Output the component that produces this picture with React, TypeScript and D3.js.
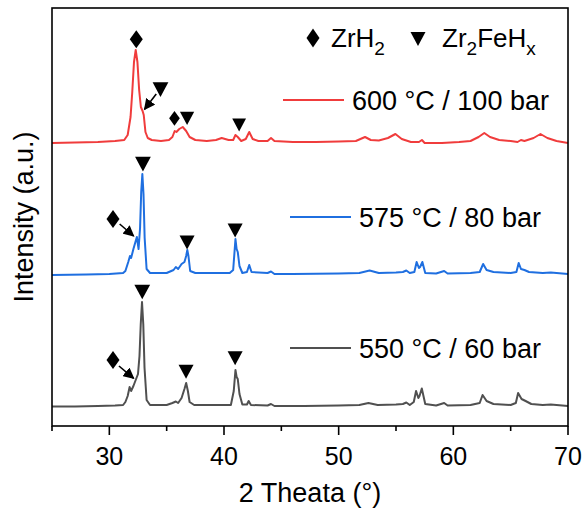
import React from 'react';
import * as d3 from 'd3';

const W = 584;
const H = 512;
const M = { left: 52, right: 16, top: 8, bottom: 86 };

const xTicks = [30, 40, 50, 60, 70];
const xMinorTicks = [25, 35, 45, 55, 65];
const seriesNames = ['550 °C / 60 bar', '575 °C / 80 bar', '600 °C / 100 bar'];
const seriesColors = ['#505050', '#1f6fe0', '#f03c3c'];
const seriesOffsets = [0, 132, 264];

// [2θ, intensity (a.u.)]
const pattern550: [number, number][] = [
  [25, 19.5], [27, 19.5], [29, 20], [30.5, 20.5], [31.2, 21], [31.4, 24], [31.6, 30], [31.77, 39],
  [31.9, 35], [32.1, 40], [32.3, 46], [32.5, 52], [32.63, 70], [32.74, 102], [32.85, 124],
  [32.96, 102], [33.07, 58], [33.25, 26], [33.55, 21], [35.0, 21], [35.5, 23], [35.8, 24.5],
  [36.0, 23], [36.3, 28], [36.55, 37], [36.7, 43], [36.85, 35], [37.0, 24], [37.4, 21],
  [40.6, 21], [40.85, 35], [41.0, 56], [41.1, 49], [41.2, 47], [41.35, 32], [41.6, 21.5],
  [42.0, 21.5], [42.15, 25], [42.35, 21], [43.8, 20.5], [44.1, 22], [44.4, 20], [47, 20],
  [50, 20.5], [51.8, 21], [52.6, 23], [53.4, 21], [55.0, 21.5], [55.6, 22], [55.9, 23.5],
  [56.2, 21], [56.55, 24], [56.75, 35], [56.95, 28], [57.05, 30], [57.25, 37.5], [57.55, 22],
  [58.5, 20.5], [59.2, 23], [59.5, 20.5], [61.5, 21], [62.3, 23], [62.55, 31], [62.9, 25],
  [63.5, 22], [65.0, 21], [65.45, 23], [65.65, 33], [65.95, 27], [66.3, 25], [66.8, 22],
  [67.8, 21], [68.5, 21.5], [70, 20],
];

const pattern575: [number, number][] = [
  [25, 19], [28, 19.5], [30, 20], [31.2, 21], [31.4, 23], [31.65, 32], [31.8, 38], [31.9, 36],
  [32.1, 45], [32.4, 57], [32.55, 45], [32.68, 66], [32.78, 102], [32.88, 120], [32.98, 100],
  [33.08, 56], [33.25, 25], [33.55, 21], [35.0, 21], [35.6, 24], [35.8, 27], [36.0, 25],
  [36.3, 30], [36.55, 32], [36.7, 38], [36.8, 44], [36.9, 38], [37.05, 23], [37.5, 21],
  [40.5, 21], [40.8, 24], [41.0, 55], [41.1, 45], [41.2, 42], [41.35, 28], [41.6, 21],
  [42.0, 22], [42.2, 29], [42.4, 22], [43.8, 21], [44.1, 22.5], [44.4, 20], [46, 20],
  [50, 20.5], [51.8, 21], [52.7, 23.5], [53.5, 21], [55.0, 21.5], [55.6, 22], [55.9, 23.5],
  [56.2, 21], [56.6, 22], [56.8, 32], [57.0, 26], [57.1, 27], [57.3, 32], [57.55, 21],
  [58.5, 20.5], [59.2, 23], [59.5, 20.5], [61.5, 21], [62.3, 22], [62.6, 30], [62.9, 24],
  [63.5, 22], [65.0, 21], [65.5, 22], [65.7, 31], [65.9, 25], [66.2, 24], [66.6, 22],
  [67.8, 21], [68.5, 21.5], [70, 20],
];

const pattern600: [number, number][] = [
  [25, 19], [27, 19.5], [29, 20], [30.5, 21], [31.3, 22], [31.6, 27], [31.85, 45], [32.0, 70],
  [32.15, 100], [32.3, 112], [32.45, 100], [32.6, 72], [32.75, 55], [32.9, 51], [33.0, 47],
  [33.15, 30], [33.35, 24], [33.7, 22], [34.5, 21], [35.2, 22], [35.5, 25], [35.7, 31],
  [35.85, 30], [36.1, 33], [36.4, 35], [36.7, 31], [37.0, 25], [37.5, 22], [38.5, 21],
  [39.3, 22], [39.8, 24], [40.4, 22], [40.8, 22], [41.0, 27], [41.2, 25], [41.5, 21],
  [41.9, 23], [42.2, 30], [42.5, 23], [43.0, 21], [43.8, 21], [44.1, 24], [44.4, 21], [46, 20],
  [48, 20], [50, 20.5], [51.5, 21], [52.3, 25], [52.8, 22], [53.5, 21.5], [54.3, 24],
  [54.95, 28], [55.5, 23], [56.3, 20], [57.0, 20], [57.26, 22], [57.5, 19], [59, 19],
  [60.5, 20], [61.5, 21], [62.2, 25], [62.7, 29], [63.2, 25], [64, 22], [65, 21], [65.6, 20],
  [65.9, 22], [66.2, 21], [67, 24], [67.6, 28], [68.2, 24], [69, 21], [70, 19],
];

const patterns = [pattern550, pattern575, pattern600];

// annotation symbols: [2θ, stacked intensity, relative size]
const diamondMarks: [number, number, number][] = [
  [32.35, 386.7, 1], [35.68, 307.7, 0.82], [30.32, 207, 1], [30.32, 66, 1],
];
const triangleMarks: [number, number, number][] = [
  [34.46, 336.3, 1.05], [36.78, 307.7, 0.95], [41.32, 301, 0.92],
  [32.93, 261.8, 1.05], [36.78, 183.5, 1], [40.97, 195.5, 1],
  [32.87, 134, 1.05], [36.69, 54.3, 1], [40.97, 67.7, 1],
];
const arrows: [number, number, number, number][] = [
  [34.09, 332, 33.07, 316.7],
  [30.9, 202, 32.12, 190],
  [30.84, 60, 32.12, 47.7],
];

const FONT = '"Liberation Sans", Arial, Helvetica, sans-serif';

function diamondPath(w: number, h: number) {
  return `M0,${-h / 2}L${w / 2},0L0,${h / 2}L${-w / 2},0Z`;
}
function trianglePath(w: number, h: number) {
  return `M${-w / 2},${-h / 2}L${w / 2},${-h / 2}L0,${h / 2}Z`;
}

export default function App() {
  const x0 = M.left;
  const x1 = W - M.right;
  const y0 = H - M.bottom;
  const y1 = M.top;
  const x = d3.scaleLinear().domain([25, 70]).range([x0, x1]);
  const y = d3.scaleLinear().domain([0, 418]).range([y0, y1]);

  const lines = patterns.map((p, i) =>
    d3
      .line<[number, number]>()
      .x((d) => x(d[0]))
      .y((d) => y(d[1] + seriesOffsets[i]))
      .curve(d3.curveLinear)(p) as string
  );

  const legendRows = [
    { i: 2, lx: 283, ty: 100 },
    { i: 1, lx: 290, ty: 217 },
    { i: 0, lx: 290, ty: 348 },
  ];

  return (
    <svg
      width={W}
      height={H}
      style={{ position: 'absolute', left: 0, top: 0, background: '#fff' }}
      fontFamily={FONT}
    >
      <defs>
        <marker id="ah" viewBox="0 0 10 10" refX="9" refY="5" markerWidth="7" markerHeight="7" orient="auto">
          <path d="M0,0L10,5L0,10Z" fill="#000" />
        </marker>
        <clipPath id="clip">
          <rect x={x0} y={y1} width={x1 - x0} height={y0 - y1} />
        </clipPath>
      </defs>
      <rect x={0} y={0} width={W} height={H} fill="#fff" />

      <g clipPath="url(#clip)">
        {lines.map((d, i) => (
          <path key={i} d={d} fill="none" stroke={seriesColors[i]} strokeWidth={2} strokeLinejoin="round" />
        ))}
      </g>

      {diamondMarks.map(([t, v, s], k) => (
        <path key={'d' + k} d={diamondPath(13 * s, 18 * s)} transform={`translate(${x(t)},${y(v)})`} fill="#000" />
      ))}
      {triangleMarks.map(([t, v, s], k) => (
        <path key={'t' + k} d={trianglePath(15 * s, 14 * s)} transform={`translate(${x(t)},${y(v)})`} fill="#000" />
      ))}
      {arrows.map(([a, b, c, d], k) => (
        <line key={'a' + k} x1={x(a)} y1={y(b)} x2={x(c)} y2={y(d)} stroke="#000" strokeWidth={1.6} markerEnd="url(#ah)" />
      ))}

      {/* frame */}
      <rect x={x0} y={y1} width={x1 - x0} height={y0 - y1} fill="none" stroke="#000" strokeWidth={1.6} />

      {/* x axis ticks */}
      {xTicks.map((t) => (
        <g key={'xt' + t}>
          <line x1={x(t)} x2={x(t)} y1={y0} y2={y0 + 9} stroke="#000" strokeWidth={1.6} />
          <text x={x(t)} y={y0 + 39} textAnchor="middle" fontSize={25} fill="#000">
            {t}
          </text>
        </g>
      ))}
      {xMinorTicks.map((t) => (
        <line key={'xm' + t} x1={x(t)} x2={x(t)} y1={y0} y2={y0 + 5} stroke="#000" strokeWidth={1.6} />
      ))}

      <text x={(x0 + x1) / 2} y={H - 10} textAnchor="middle" fontSize={27} fill="#000">
        2 Theata (°)
      </text>
      <text
        transform={`translate(${33},${(y0 + y1) / 2}) rotate(-90)`}
        textAnchor="middle"
        fontSize={27}
        fill="#000"
      >
        Intensity (a.u.)
      </text>

      {/* phase legend */}
      <path d={diamondPath(13, 19)} transform="translate(313,38)" fill="#000" />
      <text x={331} y={47} fontSize={26} fill="#000">
        ZrH<tspan fontSize={19} dy={8}>2</tspan>
      </text>
      <path d={trianglePath(15, 14)} transform="translate(418,39)" fill="#000" />
      <text x={442} y={47} fontSize={26} fill="#000">
        Zr<tspan fontSize={19} dy={8}>2</tspan>
        <tspan dy={-8}>FeH</tspan>
        <tspan fontSize={19} dy={8}>x</tspan>
      </text>

      {/* series legend */}
      {legendRows.map(({ i, lx, ty }) => (
        <g key={'lg' + i}>
          <line x1={lx} x2={lx + 61} y1={ty} y2={ty} stroke={seriesColors[i]} strokeWidth={2} />
          <text x={lx + 69} y={ty + 9.5} fontSize={27} fill="#000">
            {seriesNames[i]}
          </text>
        </g>
      ))}
    </svg>
  );
}
